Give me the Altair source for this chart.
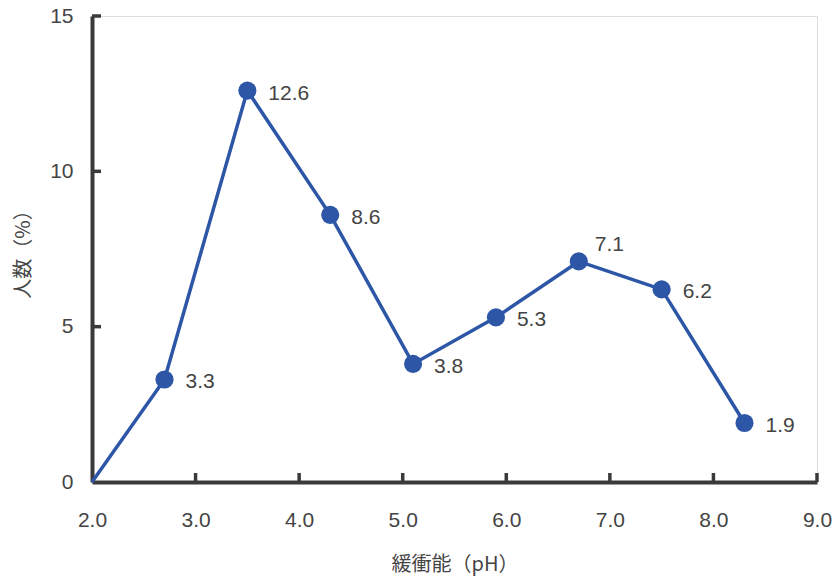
import altair as alt
import pandas as pd

# data
ph = [2.7, 3.5, 4.3, 5.1, 5.9, 6.7, 7.5, 8.3]
pct = [3.3, 12.6, 8.6, 3.8, 5.3, 7.1, 6.2, 1.9]
line_start_x = [2.0]
line_start_y = [0.0]
x_ticks = [2.0, 3.0, 4.0, 5.0, 6.0, 7.0, 8.0, 9.0]
y_ticks = [0, 5, 10, 15]
x_title = "緩衝能（pH）"
y_title = "人数（%）"

W, H = 725, 466
BLUE = "#2d57a6"
AXC = "#3a3a3a"
TXT = "#444444"

pts = pd.DataFrame({"x": ph, "y": pct, "label": [f"{v:.1f}" for v in pct]})
line_df = pd.DataFrame({"x": line_start_x + ph, "y": line_start_y + pct})
xt = pd.DataFrame({"t": x_ticks[1:]})
yt = pd.DataFrame({"t": y_ticks[1:]})

xs = alt.Scale(domain=[2, 9], nice=False, zero=False)
ys = alt.Scale(domain=[0, 15], nice=False)

xaxis = alt.Axis(values=x_ticks, format=".1f", title=x_title, ticks=False,
                 grid=False, domainColor=AXC, domainWidth=4, labelFontSize=21,
                 labelColor=TXT, labelFont="Liberation Sans", labelPadding=27,
                 labelFlush=False,
                 titleFont="Noto Sans CJK JP", titleFontSize=20, titleColor=TXT,
                 titleFontWeight="normal", titlePadding=24)
yaxis = alt.Axis(values=y_ticks, format="d", title=y_title, ticks=False,
                 grid=False, domainColor=AXC, domainWidth=4, labelFontSize=21,
                 labelColor=TXT, labelFont="Liberation Sans", labelPadding=19,
                 labelFlush=False,
                 titleFont="Noto Sans CJK JP", titleFontSize=20, titleColor=TXT,
                 titleFontWeight="normal", titlePadding=16)

line = alt.Chart(line_df).mark_line(color=BLUE, strokeWidth=3.5).encode(
    x=alt.X("x:Q", scale=xs, axis=xaxis),
    y=alt.Y("y:Q", scale=ys, axis=yaxis),
    order="x:Q",
)
points = alt.Chart(pts).mark_circle(color=BLUE, size=330, opacity=1).encode(
    x=alt.X("x:Q", scale=xs), y=alt.Y("y:Q", scale=ys)
)
labels = alt.Chart(pts).transform_filter("datum.x != 6.7").mark_text(
    align="left", baseline="middle", dx=21, dy=3, fontSize=21,
    font="Liberation Sans", color=TXT
).encode(x=alt.X("x:Q", scale=xs), y=alt.Y("y:Q", scale=ys), text="label:N")
labels_up = alt.Chart(pts).transform_filter("datum.x == 6.7").mark_text(
    align="left", baseline="middle", dx=16, dy=-16, fontSize=21,
    font="Liberation Sans", color=TXT
).encode(x=alt.X("x:Q", scale=xs), y=alt.Y("y:Q", scale=ys), text="label:N")

xtick = alt.Chart(xt).mark_rule(color=AXC, strokeWidth=3.5).encode(
    x=alt.X("t:Q", scale=xs), y=alt.value(H), y2=alt.value(H - 9)
)
ytick = alt.Chart(yt).mark_rule(color=AXC, strokeWidth=3.5).encode(
    y=alt.Y("t:Q", scale=ys), x=alt.value(0), x2=alt.value(9)
)

chart = alt.layer(xtick, ytick, line, points, labels, labels_up).properties(
    width=W, height=H,
    autosize=alt.AutoSizeParams(type="none"),
    padding={"left": 92, "top": 16, "right": 20, "bottom": 99},
).configure_view(stroke=None).configure(background="white")

chart.save("out.html", embed_options={"renderer": "svg", "actions": False})
